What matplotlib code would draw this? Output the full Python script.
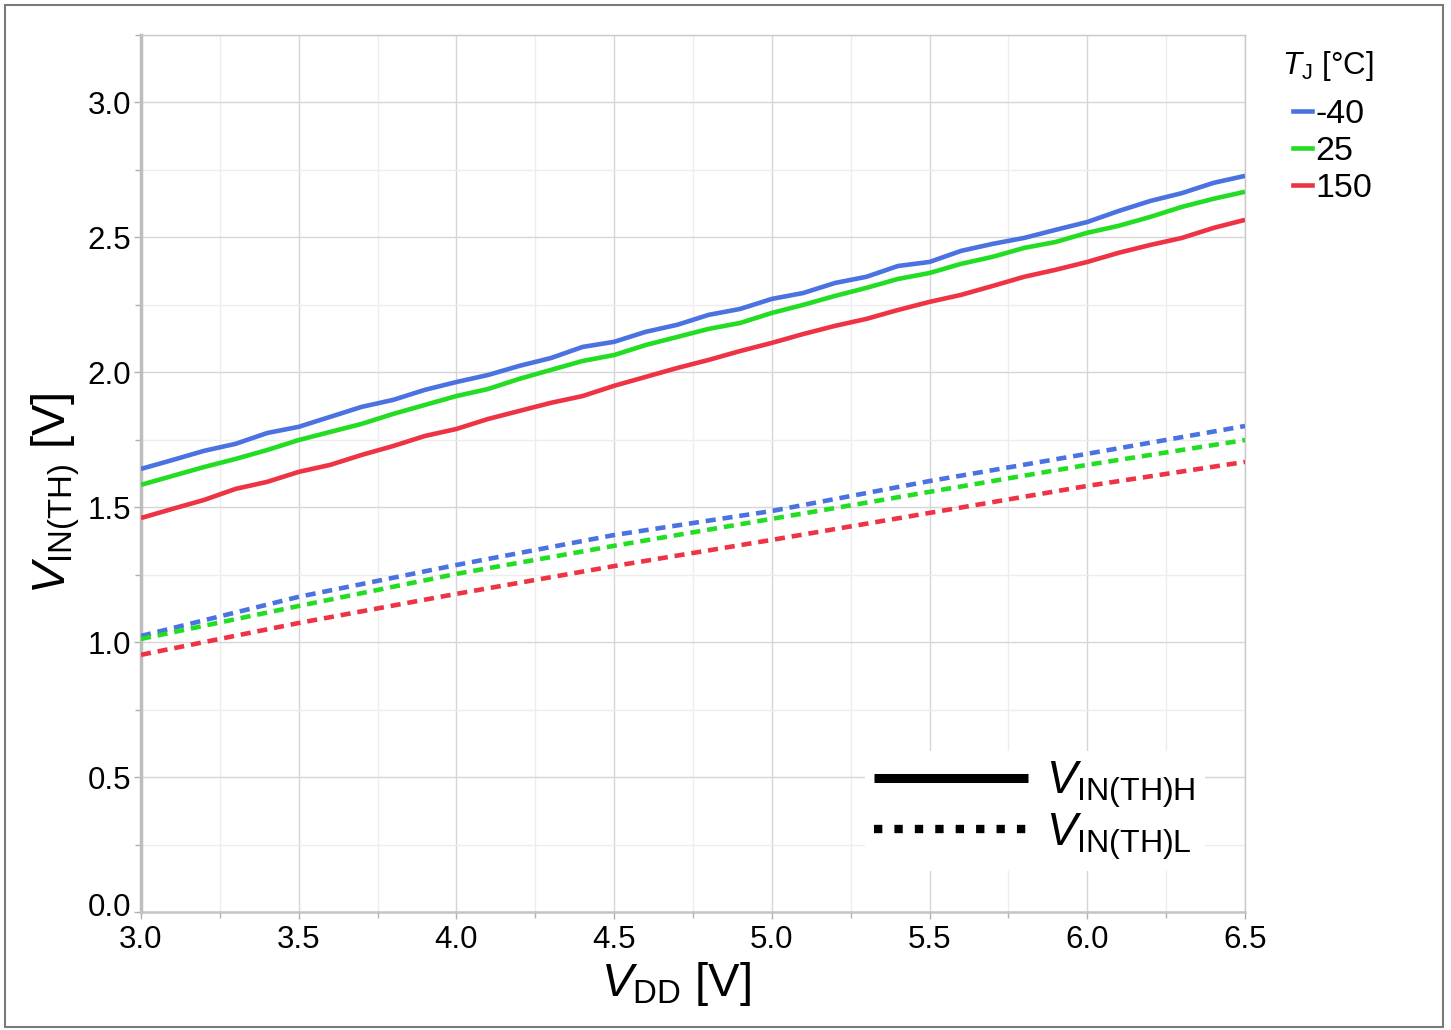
import matplotlib
matplotlib.use("Agg")
import matplotlib.pyplot as plt
from matplotlib.lines import Line2D
from matplotlib.patches import Rectangle
from matplotlib.ticker import MultipleLocator, FormatStrFormatter
from matplotlib.transforms import ScaledTranslation

plt.rcParams['font.family'] = ['Liberation Sans', 'DejaVu Sans']
plt.rcParams['mathtext.fontset'] = 'custom'
plt.rcParams['mathtext.rm'] = 'Liberation Sans'
plt.rcParams['mathtext.it'] = 'Liberation Sans:italic'
plt.rcParams['mathtext.bf'] = 'Liberation Sans:bold'

# ---- data ----
vdd = [3.0, 3.1, 3.2, 3.3, 3.4, 3.5, 3.6, 3.7, 3.8, 3.9, 4.0, 4.1, 4.2, 4.3, 4.4, 4.5,
       4.6, 4.7, 4.8, 4.9, 5.0, 5.1, 5.2, 5.3, 5.4, 5.5, 5.6, 5.7, 5.8, 5.9, 6.0, 6.1,
       6.2, 6.3, 6.4, 6.5]
vth_h_m40 = [1.642, 1.675, 1.709, 1.735, 1.775, 1.798, 1.835, 1.872, 1.898, 1.935, 1.964,
             1.990, 2.024, 2.053, 2.094, 2.113, 2.150, 2.176, 2.213, 2.235, 2.272, 2.294,
             2.331, 2.354, 2.394, 2.409, 2.450, 2.476, 2.498, 2.528, 2.557, 2.598, 2.635,
             2.664, 2.702, 2.728]
vth_h_25 = [1.583, 1.616, 1.649, 1.679, 1.712, 1.749, 1.779, 1.809, 1.846, 1.879, 1.912,
            1.938, 1.976, 2.009, 2.042, 2.064, 2.101, 2.131, 2.161, 2.183, 2.220, 2.250,
            2.283, 2.313, 2.346, 2.368, 2.402, 2.428, 2.461, 2.483, 2.517, 2.543, 2.576,
            2.613, 2.643, 2.669]
vth_h_150 = [1.460, 1.494, 1.527, 1.568, 1.594, 1.631, 1.657, 1.694, 1.727, 1.764, 1.790,
             1.827, 1.857, 1.887, 1.912, 1.950, 1.983, 2.016, 2.046, 2.079, 2.109, 2.142,
             2.172, 2.198, 2.231, 2.261, 2.287, 2.320, 2.354, 2.380, 2.409, 2.443, 2.472,
             2.498, 2.535, 2.565]

vdd_l = [3.0, 3.5, 4.0, 4.5, 5.0, 5.5, 6.0, 6.5]
vth_l_m40 = [1.023, 1.168, 1.286, 1.397, 1.486, 1.597, 1.698, 1.801]
vth_l_25 = [1.012, 1.134, 1.253, 1.357, 1.457, 1.557, 1.657, 1.749]
vth_l_150 = [0.953, 1.071, 1.179, 1.282, 1.379, 1.479, 1.579, 1.668]

temps = ['-40', '25', '150']
colors = ['#4a72e0', '#22dd22', '#ee3344']

# ---- figure ----
fig = plt.figure(figsize=(14.51, 10.30), dpi=100)
ax = fig.add_axes([141/1451, 1-912/1030, 1104/1451, 877/1030])

highs = [vth_h_m40, vth_h_25, vth_h_150]
lows = [vth_l_m40, vth_l_25, vth_l_150]
for c, h, l in zip(colors, highs, lows):
    ax.plot(vdd, h, color=c, lw=3.3, solid_capstyle='butt', zorder=3)
    ax.plot(vdd_l, l, color=c, lw=3.3, linestyle=(0, (2.2, 1.5)), zorder=3)

ax.set_xlim(3.0, 6.5)
ax.set_ylim(0.0, 3.25)
ax.xaxis.set_major_locator(MultipleLocator(0.5))
ax.xaxis.set_minor_locator(MultipleLocator(0.25))
ax.yaxis.set_major_locator(MultipleLocator(0.5))
ax.yaxis.set_minor_locator(MultipleLocator(0.25))
ax.xaxis.set_major_formatter(FormatStrFormatter('%.1f'))
ax.yaxis.set_major_formatter(FormatStrFormatter('%.1f'))

ax.grid(which='major', color='#d6d6d6', lw=1.0, zorder=0)
ax.grid(which='minor', color='#ededed', lw=1.0, zorder=0)
ax.set_axisbelow(True)

for s in ['top', 'right']:
    ax.spines[s].set_color('#c8c8c8')
    ax.spines[s].set_linewidth(1.0)
ax.spines['left'].set_color('#bdbdbd')
ax.spines['left'].set_linewidth(2.5)
ax.spines['bottom'].set_color('#c4c4c4')
ax.spines['bottom'].set_linewidth(1.8)

ax.tick_params(which='both', direction='out', color='#b0b0b0', width=1.0)
ax.tick_params(which='major', length=5, labelsize=22.5)
ax.tick_params(axis='x', which='major', pad=4)
ax.tick_params(axis='y', which='major', pad=2)
ax.tick_params(which='minor', length=4)

ax.set_xlabel(r'$V_{\mathrm{DD}}$ [V]', fontsize=34)
ax.set_ylabel(r'$V_{\mathrm{IN(TH)}}$ [V]', fontsize=34)
ax.xaxis.set_label_coords(0.485, -0.055)
ax.yaxis.set_label_coords(-0.053, 0.478)

# temperature legend
fig.text(1282/1451, 1-66/1030, r'$T_{\mathrm{J}}$ [°C]', fontsize=22.5,
         ha='left', va='center')
th = [Line2D([], [], color=c, lw=3.3) for c in colors]
leg1 = ax.legend(th, temps, loc='upper left',
                 bbox_to_anchor=(1.0 + 48/1104, 1 - 64/877), frameon=False,
                 fontsize=24.5, handlelength=0.55, handletextpad=0.1,
                 labelspacing=0.18, borderaxespad=0.0, borderpad=0.0)
ax.add_artist(leg1)

# line style legend
sh = [Line2D([], [], color='black', lw=6.5, solid_capstyle='butt'),
      Line2D([], [], color='black', lw=6.0, linestyle=(0, (1.0, 1.45)))]
leg2 = ax.legend(sh, [r'$V_{\mathrm{IN(TH)H}}$', r'$V_{\mathrm{IN(TH)L}}$'],
                 loc='upper left', bbox_to_anchor=(0.635, 0.21), frameon=True,
                 fontsize=33, handlelength=3.35, handletextpad=0.4,
                 labelspacing=0.02, borderpad=0.2, fancybox=False)
leg2.get_frame().set_edgecolor('none')
leg2.get_frame().set_facecolor('white')
leg2.get_frame().set_alpha(1.0)

# lift the 0.0 y tick label slightly as in the reference
fig.canvas.draw()
for t in ax.yaxis.get_major_ticks():
    if abs(t.get_loc()) < 1e-9:
        t.label1.set_transform(t.label1.get_transform() +
                               ScaledTranslation(0, 8/100, fig.dpi_scale_trans))

# outer border
fig.patches.append(Rectangle((5/1451, 3/1030), 1438/1451, 1022/1030,
                             transform=fig.transFigure, fill=False,
                             edgecolor='#7a7a7a', lw=1.5))

fig.savefig('out.png', dpi=100, facecolor='white')
